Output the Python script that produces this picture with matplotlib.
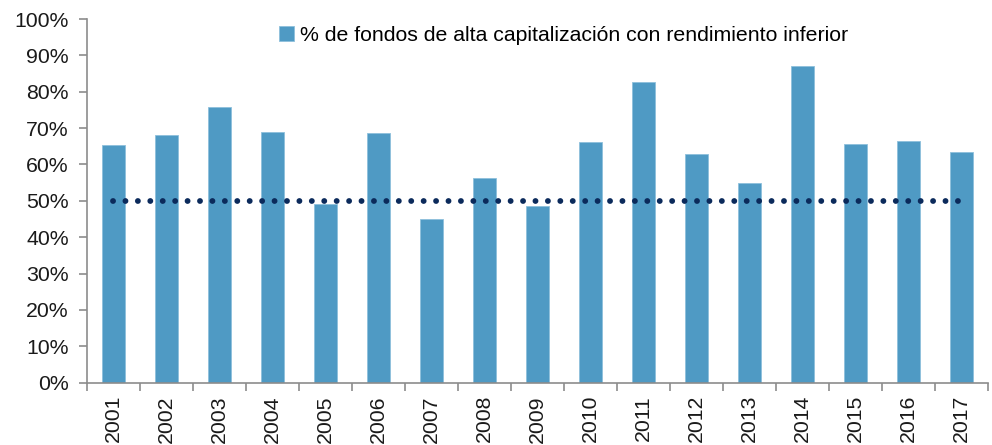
import numpy as np
import matplotlib
matplotlib.use('Agg')
from matplotlib import pyplot as plt

plt.rcParams['font.family'] = ['Liberation Sans', 'DejaVu Sans']

years = ['2001', '2002', '2003', '2004', '2005', '2006', '2007', '2008', '2009',
         '2010', '2011', '2012', '2013', '2014', '2015', '2016', '2017']
pct_inferior = [65.4, 68.0, 75.7, 69.0, 49.1, 68.7, 44.9, 56.2, 48.6,
                66.2, 82.6, 62.9, 54.8, 87.0, 65.7, 66.4, 63.3]
referencia = 50
label_serie = '% de fondos de alta capitalización con rendimiento inferior'

fig = plt.figure(figsize=(9.92, 4.45), dpi=100)
ax = fig.add_axes([0.0874, 0.1404, 0.9086, 0.8166])

x = np.arange(len(years))
ax.bar(x, pct_inferior, width=0.44, color='#4F9AC4', edgecolor='#8EC0DC',
       linewidth=0.6, label=label_serie, zorder=2)

# linea punteada del 50%
ax.plot([x[0], x[-1]], [referencia, referencia], color='#0B2A5B', linewidth=4.2,
        linestyle=(0, (0.01, 2.12)), dash_capstyle='round', zorder=3)

ax.set_xlim(-0.5, len(years) - 0.5)
ax.set_ylim(0, 100)
ax.set_yticks(np.arange(0, 101, 10))
ax.set_yticklabels([f'{v}%' for v in range(0, 101, 10)])
ax.set_xticks(x)
ax.set_xticklabels(years, rotation=90)
ax.set_xticks(np.arange(-0.5, len(years), 1), minor=True)

for s in ['top', 'right']:
    ax.spines[s].set_visible(False)
for s in ['left', 'bottom']:
    ax.spines[s].set_color('#8C8C8C')
    ax.spines[s].set_linewidth(1.2)

fs = 15.3
ax.tick_params(axis='y', labelsize=fs, colors='#8C8C8C', labelcolor='#1A1A1A',
               length=6, width=1.2, pad=7)
ax.tick_params(axis='x', which='major', labelsize=fs, labelcolor='#1A1A1A',
               length=0, pad=9)
ax.tick_params(axis='x', which='minor', length=6, width=1.2, colors='#8C8C8C')

ax.legend(loc='center left', bbox_to_anchor=(0.281, 0.921), bbox_transform=fig.transFigure,
          frameon=False, fontsize=fs, handlelength=0.72, handleheight=0.72,
          handletextpad=0.3, borderpad=0, borderaxespad=0)

fig.savefig('out.png', dpi=100)
